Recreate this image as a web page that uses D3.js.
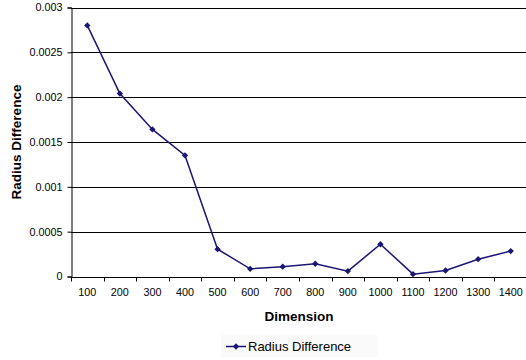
<!DOCTYPE html>
<html>
<head>
<meta charset="utf-8">
<script src="https://cdn.jsdelivr.net/npm/d3@7"></script>
<style>
  body { margin: 0; background: #fff; }
  svg { display: block; font-family: "Liberation Sans", Arial, sans-serif; }
</style>
</head>
<body>
<svg id="chart" width="526" height="360"></svg>
<script>
// data
var dims = ["100", "200", "300", "400", "500", "600", "700", "800", "900", "1000", "1100", "1200", "1300", "1400"];
var radiusDiff = [0.0028, 0.00204, 0.00164, 0.00135, 0.000305, 0.000086, 0.00011, 0.000142, 0.00006, 0.00036, 0.000026, 0.000067, 0.000193, 0.000283];
var yTicks = [0, 0.0005, 0.001, 0.0015, 0.002, 0.0025, 0.003];
var yTickLabels = ["0", "0.0005", "0.001", "0.0015", "0.002", "0.0025", "0.003"];

var width = 526, height = 360;
// note: "top" is taken by window.top, so plot edges get a prefix
var plotLeft = 71, plotRight = 527, plotTop = 7.5, plotBottom = 276.5;
var lineColor = "#1b1575";
var tickFont = 10.8;

var svg = d3.select("#chart");

var x = d3.scaleBand().domain(dims).range([plotLeft, plotRight]);
var y = d3.scaleLinear().domain([0, 0.003]).range([plotBottom, plotTop]);

// gridlines
svg.append("g")
  .selectAll("line")
  .data(yTicks.slice(1))
  .enter().append("line")
  .attr("x1", plotLeft).attr("x2", width)
  .attr("y1", function(d) { return Math.round(y(d)) + 0.5; })
  .attr("y2", function(d) { return Math.round(y(d)) + 0.5; })
  .attr("stroke", "#000")
  .attr("stroke-width", 1);

// y axis
var yAxis = svg.append("g")
  .attr("transform", "translate(" + (plotLeft + 0.5) + ",0)")
  .call(d3.axisLeft(y).tickValues(yTicks).tickSize(4).tickPadding(5)
    .tickFormat(function(d, i) { return yTickLabels[i]; }));
yAxis.select(".domain").attr("stroke", "#000");
yAxis.selectAll("text").attr("font-size", tickFont).attr("fill", "#000")
  .attr("font-family", "Liberation Sans, Arial, sans-serif");

// x axis
var xAxis = svg.append("g")
  .attr("transform", "translate(0," + (Math.round(plotBottom) + 0.5) + ")");
xAxis.append("line")
  .attr("x1", plotLeft).attr("x2", width)
  .attr("stroke", "#000");
xAxis.selectAll(".tk")
  .data(dims)
  .enter().append("line")
  .attr("class", "tk")
  .attr("x1", function(d) { return Math.round(x(d)) + 0.5; })
  .attr("x2", function(d) { return Math.round(x(d)) + 0.5; })
  .attr("y1", 0).attr("y2", 4)
  .attr("stroke", "#000");
xAxis.selectAll("text")
  .data(dims)
  .enter().append("text")
  .attr("x", function(d) { return x(d) + x.bandwidth() / 2; })
  .attr("y", 18.5)
  .attr("text-anchor", "middle")
  .attr("font-size", tickFont)
  .text(function(d) { return d; });

// axis titles
svg.append("text")
  .attr("x", 299)
  .attr("y", 320.5)
  .attr("text-anchor", "middle")
  .attr("font-size", 13.5)
  .attr("font-weight", "bold")
  .text("Dimension");

svg.append("text")
  .attr("transform", "translate(20.5," + ((plotTop + plotBottom) / 2) + ") rotate(-90)")
  .attr("text-anchor", "middle")
  .attr("font-size", 13.5)
  .attr("font-weight", "bold")
  .text("Radius Difference");

// series line
var line = d3.line()
  .x(function(d, i) { return x(dims[i]) + x.bandwidth() / 2; })
  .y(function(d) { return y(d); });

svg.append("path")
  .datum(radiusDiff)
  .attr("d", line)
  .attr("fill", "none")
  .attr("stroke", lineColor)
  .attr("stroke-width", 1.5);

var diamond = d3.symbol().type(d3.symbolSquare).size(20);
svg.append("g")
  .selectAll("path")
  .data(radiusDiff)
  .enter().append("path")
  .attr("d", diamond)
  .attr("transform", function(d, i) {
    return "translate(" + (x(dims[i]) + x.bandwidth() / 2) + "," + y(d) + ") rotate(45)";
  })
  .attr("fill", lineColor);

// legend
var legend = svg.append("g").attr("transform", "translate(221,335)");
legend.append("rect")
  .attr("width", 157).attr("height", 22)
  .attr("fill", "#fafafa");
legend.append("line")
  .attr("x1", 5).attr("x2", 25)
  .attr("y1", 11.5).attr("y2", 11.5)
  .attr("stroke", lineColor).attr("stroke-width", 1.5);
legend.append("path")
  .attr("d", diamond)
  .attr("transform", "translate(15,11.5) rotate(45)")
  .attr("fill", lineColor);
legend.append("text")
  .attr("x", 27).attr("y", 16)
  .attr("font-size", 13)
  .text("Radius Difference");
</script>
</body>
</html>
